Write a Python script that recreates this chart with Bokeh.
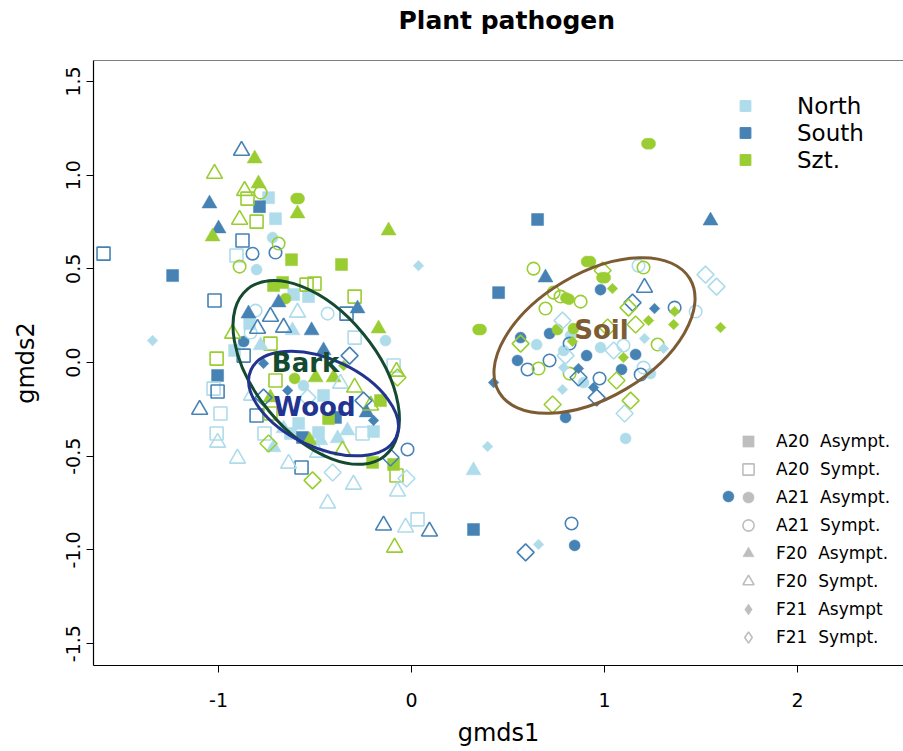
import math
from bokeh.plotting import figure
from bokeh.models import Range1d, FixedTicker, Span, Legend, LegendItem, ColumnDataSource
from bokeh.core.properties import value
from bokeh.embed import file_html
from bokeh.resources import INLINE

# ---------------- data (gmds1, gmds2) ----------------
# North
n_a20a_x = [-0.741, -0.705, -0.839, -0.917, -0.611, -0.534, -0.456, -0.585, -0.627, -0.482, -0.197]
n_a20a_y = [0.880, 0.768, 0.208, 0.064, 0.363, 0.352, -0.176, -0.325, -0.379, -0.373, -0.368]
n_a20s_x = [-0.907, -0.295, -0.093, -1.026, -0.990, -1.010, -0.762, -0.254, 0.031]
n_a20s_y = [0.571, 0.133, -0.016, -0.139, -0.272, -0.379, -0.379, -0.379, -0.837]
n_a21a_x = [-0.803, -0.720, -0.135, -0.560, 0.979, 0.648, 0.824, 0.788, 1.238, 0.891, 1.109]
n_a21a_y = [0.496, 0.667, 0.117, -0.123, 0.080, 0.096, 0.144, 0.064, -0.059, -0.107, -0.405]
n_a21s_x = [-0.808, -0.834, -0.435, 1.176, 1.098, 1.202, 1.472]
n_a21s_y = [0.277, 0.160, 0.261, 0.517, 0.091, -0.027, 0.272]
n_f20a_x = [-0.617, -0.782, -0.663, -0.715, -0.472, -0.383, -0.332, 0.321]
n_f20a_y = [0.171, 0.091, -0.352, -0.453, -0.416, -0.405, -0.363, -0.576]
n_f20s_x = [-0.591, -0.368, -0.829, -1.005, -0.902, -0.487, -0.637, -0.435, -0.301, -0.073, -0.031]
n_f20s_y = [0.267, -0.112, -0.176, -0.427, -0.512, -0.480, -0.539, -0.752, -0.651, -0.688, -0.880]
n_f21a_x = [-1.342, 0.036, 0.394, 0.658, 1.207, 1.306, 0.788, 0.782]
n_f21a_y = [0.117, 0.517, -0.448, -0.971, 0.128, 0.075, -0.027, -0.144]
n_f21s_x = [-0.539, -0.409, -0.026, 1.523, 1.580, 0.782, 0.798, 1.047, 1.104]
n_f21s_y = [-0.187, -0.587, -0.619, 0.469, 0.405, 0.224, 0.037, 0.064, -0.272]

# South
s_a20a_x = [-0.788, -1.238, -1.005, -0.394, -0.565, 0.653, 0.451, 0.321]
s_a20a_y = [0.832, 0.464, -0.069, -0.293, -0.400, 0.763, 0.373, -0.891]
s_a20s_x = [-1.596, -0.876, -1.021, -0.870, -1.005, -0.337, -0.803, -0.570]
s_a20s_y = [0.581, 0.651, 0.331, 0.037, -0.155, 0.261, -0.283, -0.560]
s_a21a_x = [-0.870, 0.979, 0.715, 0.565, 0.907, 1.161, 0.549, 1.088, 0.798, 0.845, 1.642]
s_a21a_y = [0.112, 0.389, 0.155, 0.133, 0.037, 0.043, 0.011, -0.037, -0.293, -0.976, -0.715]
s_a21s_x = [-0.824, -0.705, -0.021, 1.363, 0.819, 0.715, 0.601, 1.187, 0.974, 0.829]
s_a21s_y = [0.581, 0.587, -0.464, 0.293, 0.101, 0.011, -0.037, -0.064, -0.085, -0.859]
s_f20a_x = [-1.047, -1.000, -0.845, -0.689, -0.280, -0.518, -0.456, -0.233, 0.694, 1.549]
s_f20a_y = [0.848, 0.715, 0.261, 0.320, 0.288, 0.171, 0.064, -0.267, 0.453, 0.757]
s_f20s_x = [-0.881, -0.798, -0.731, -0.663, -1.098, -0.145, 0.093, 1.207]
s_f20s_y = [1.131, 0.181, 0.245, 0.187, -0.251, -0.869, -0.901, 0.400]
s_f21a_x = [-0.767, -0.642, -0.197, 0.425, 1.259, 0.865, 0.943]
s_f21a_y = [-0.005, -0.149, -0.309, -0.107, 0.288, -0.032, -0.133]
s_f21s_x = [-0.321, -0.767, -0.249, -0.109, 1.145, 0.865, 0.959, 0.591]
s_f21s_y = [0.037, -0.187, -0.203, -0.507, 0.320, -0.080, -0.187, -1.013]

# Szt.
g_a20a_x = [-0.622, -0.363, -0.715, -0.668, -0.430, -0.161, -0.202, -0.093]
g_a20a_y = [0.549, 0.523, 0.411, 0.427, -0.299, -0.203, -0.533, -0.544]
g_a20s_x = [-0.850, -0.803, -1.010, -0.544, -0.503, -0.295, -0.731, -0.705, -0.731, -0.078]
g_a20s_y = [0.875, 0.752, 0.021, 0.416, 0.421, 0.352, 0.101, -0.096, -0.272, -0.603]
g_a21a_x = [-0.598, -0.583, -0.653, -0.606, 0.345, 0.360, 0.907, 0.927, 1.220, 1.236, 0.987, 1.003, 0.800, 0.816, 0.756, 0.839]
g_a21a_y = [0.875, 0.875, 0.341, -0.085, 0.176, 0.176, 0.539, 0.539, 1.168, 1.168, 0.453, 0.453, 0.345, 0.338, 0.176, 0.181]
g_a21s_x = [-0.782, -0.689, -0.891, 0.632, 0.736, 0.772, 0.876, 0.694, 1.202, 1.275, 0.658, 0.819]
g_a21s_y = [0.907, 0.635, 0.512, 0.501, 0.373, 0.352, 0.325, 0.288, 0.507, 0.096, -0.032, -0.059]
g_f20a_x = [-0.813, -0.793, -0.591, -1.031, -0.119, -0.171, -0.497, -0.404, -0.731, -0.528]
g_f20a_y = [1.088, 0.955, 0.795, 0.672, 0.704, 0.181, -0.080, -0.080, -0.187, -0.416]
g_f20s_x = [-1.021, -0.865, -0.891, -0.927, -0.295, -0.212, -0.358, -0.078, -0.088]
g_f20s_y = [1.008, 0.917, 0.763, 0.155, -0.133, -0.229, -0.469, -0.048, -0.987]
g_f21a_x = [-0.352, 1.041, 1.363, 1.228, 1.358, 1.601, 0.834, 1.098]
g_f21a_y = [-0.016, 0.395, 0.272, 0.224, 0.203, 0.187, 0.112, 0.027]
g_f21s_x = [-0.741, -0.513, -0.073, 0.990, 1.124, 1.161, 1.016, 0.565, 1.062, 1.135, 0.731]
g_f21s_y = [-0.432, -0.629, -0.080, 0.491, 0.293, 0.203, 0.187, 0.101, -0.096, -0.203, -0.224]

# Groups (ellipses) : centres in data units
GROUP_NAMES = ["Bark", "Wood", "Soil"]
GROUP_CX = [-0.494, -0.456, 0.948]
GROUP_CY = [-0.053, -0.219, 0.144]
GROUP_LABEL_X = [-0.549, -0.503, 0.984]
GROUP_LABEL_Y = [0.000, -0.235, 0.171]

REGIONS = ["North", "South", "Szt."]
TYPE_LABELS = ["A20  Asympt.", "A20  Sympt.", "A21  Asympt.", "A21  Sympt.",
               "F20  Asympt.", "F20  Sympt.", "F21  Asympt", "F21  Sympt."]

X_TICKS = [-1, 0, 1, 2]
X_TICK_LABELS = ["-1", "0", "1", "2"]
Y_TICKS = [-1.5, -1.0, -0.5, 0.0, 0.5, 1.0, 1.5]
Y_TICK_LABELS = ["-1.5", "-1.0", "-0.5", "0.0", "0.5", "1.0", "1.5"]
TITLE = "Plant pathogen"

# ---------------- styles ----------------
REGION_COLORS = {"North": "#AEDCEB", "South": "#4682B4", "Szt.": "#9ACD32"}
# marker, filled, size, angle, legend marker
TYPE_STYLE = [
    ("square", True, 12, 0.0, "square"),
    ("square", False, 13, 0.0, "square"),
    ("circle", True, 11, 0.0, "circle"),
    ("circle", False, 12.5, 0.0, "circle"),
    ("triangle", True, 15, 0.0, "triangle"),
    ("triangle", False, 16, 0.0, "triangle"),
    ("square", True, 7.5, math.pi / 4, "diamond"),
    ("square", False, 12, math.pi / 4, "diamond"),
]
ELL_COLORS = ["#144A30", "#22348F", "#7D5C33"]
ELL_W = [216, 160, 222]
ELL_H = [122, 88, 124]
ELL_ANGLE_DEG = [-50.5, -25.0, 30.7]

FONT = "DejaVu Sans"
NAN = float("nan")

p = figure(width=903, height=751, output_backend="svg", toolbar_location=None,
           x_range=Range1d(-1.648, 2.549), y_range=Range1d(-1.617, 1.612),
           min_border_left=93, min_border_right=0, min_border_top=60, min_border_bottom=86)
p.outline_line_color = None
p.grid.visible = False
p.background_fill_color = "white"

# title: a trailing empty line lifts the title towards the top of the page
p.title.text = TITLE + "\n"
p.title.align = "left"
p.title.offset = 305
p.title.text_font = FONT
p.title.text_font_style = "bold"
p.title.text_font_size = "25px"
p.title.text_color = "black"
p.title.text_line_height = 0.8
p.title.standoff = 5

for ax in (p.xaxis[0], p.yaxis[0]):
    ax.major_tick_out = 7
    ax.major_tick_in = 0
    ax.minor_tick_out = 0
    ax.minor_tick_in = 0
    ax.axis_line_color = "black"
    ax.axis_line_width = 1.2
    ax.major_tick_line_color = "black"
    ax.major_label_text_font = FONT
    ax.major_label_text_font_size = "19px"
    ax.major_label_text_color = "black"
    ax.axis_label_text_font = FONT
    ax.axis_label_text_font_size = "24px"
    ax.axis_label_text_font_style = "normal"
    ax.axis_label_text_color = "black"

p.xaxis.ticker = FixedTicker(ticks=X_TICKS)
p.xaxis.major_label_overrides = dict(zip(X_TICKS, X_TICK_LABELS))
p.yaxis.ticker = FixedTicker(ticks=Y_TICKS)
p.yaxis.major_label_overrides = dict(zip(Y_TICKS, Y_TICK_LABELS))
p.yaxis.major_label_orientation = "vertical"
p.xaxis.axis_label = "gmds1"
p.yaxis.axis_label = "gmds2"
p.xaxis.major_label_standoff = 20
p.yaxis.major_label_standoff = 6
p.xaxis.axis_label_standoff = 9
p.yaxis.axis_label_standoff = 24

p.add_layout(Span(location=p.y_range.end, dimension="width", line_color="black", line_width=1.2))

series = {
    "North": [(n_a20a_x, n_a20a_y), (n_a20s_x, n_a20s_y), (n_a21a_x, n_a21a_y), (n_a21s_x, n_a21s_y),
              (n_f20a_x, n_f20a_y), (n_f20s_x, n_f20s_y), (n_f21a_x, n_f21a_y), (n_f21s_x, n_f21s_y)],
    "South": [(s_a20a_x, s_a20a_y), (s_a20s_x, s_a20s_y), (s_a21a_x, s_a21a_y), (s_a21s_x, s_a21s_y),
              (s_f20a_x, s_f20a_y), (s_f20s_x, s_f20s_y), (s_f21a_x, s_f21a_y), (s_f21s_x, s_f21s_y)],
    "Szt.": [(g_a20a_x, g_a20a_y), (g_a20s_x, g_a20s_y), (g_a21a_x, g_a21a_y), (g_a21s_x, g_a21s_y),
             (g_f20a_x, g_f20a_y), (g_f20s_x, g_f20s_y), (g_f21a_x, g_f21a_y), (g_f21s_x, g_f21s_y)],
}

def draw(xs, ys, color, style, marker=None):
    mk, filled, size, angle, _ = style
    mk = marker or mk
    if filled:
        return p.scatter(x=xs, y=ys, marker=mk, size=size, angle=angle,
                         fill_color=color, line_color=color, line_width=0.5)
    return p.scatter(x=xs, y=ys, marker=mk, size=size, angle=angle,
                     fill_color=None, line_color=color, line_width=1.6)

for t in range(len(TYPE_LABELS)):
    for reg in REGIONS:
        xs, ys = series[reg][t]
        draw(xs, ys, REGION_COLORS[reg], TYPE_STYLE[t])

# ellipses
for i in range(len(GROUP_NAMES)):
    p.ellipse(x=[GROUP_CX[i]], y=[GROUP_CY[i]], width=ELL_W[i], height=ELL_H[i],
              width_units="screen", height_units="screen",
              angle=math.radians(ELL_ANGLE_DEG[i]), fill_color=None,
              line_color=ELL_COLORS[i], line_width=3)

lbl_src = ColumnDataSource(dict(x=GROUP_LABEL_X, y=GROUP_LABEL_Y, t=GROUP_NAMES, c=ELL_COLORS))
p.text(x="x", y="y", text="t", text_color="c", source=lbl_src,
       text_font=value(FONT), text_font_style="bold", text_font_size="26px",
       text_align="center", text_baseline="middle")

# legend for regions
reg_items = []
for reg in REGIONS:
    r = p.scatter(x=[NAN], y=[NAN], marker="square", size=12,
                  fill_color=REGION_COLORS[reg], line_color=REGION_COLORS[reg])
    reg_items.append(LegendItem(label=reg, renderers=[r]))
leg1 = Legend(items=reg_items, location=(637, 492), orientation="vertical",
              border_line_alpha=0, background_fill_alpha=0, padding=0, margin=0, spacing=0,
              glyph_width=30, glyph_height=27, label_height=27, label_standoff=37,
              label_text_font=FONT, label_text_font_size="23px", label_text_color="black")
p.add_layout(leg1)

# legend for sample types (grey)
type_items = []
for t, lab in enumerate(TYPE_LABELS):
    r = draw([NAN], [NAN], "#BEBEBE", TYPE_STYLE[t], marker=TYPE_STYLE[t][4])
    type_items.append(LegendItem(label=lab, renderers=[r]))
leg2 = Legend(items=type_items, location=(641, 14), orientation="vertical",
              border_line_alpha=0, background_fill_alpha=0, padding=0, margin=0, spacing=0,
              glyph_width=28, glyph_height=28, label_height=28, label_standoff=14,
              label_text_font=FONT, label_text_font_size="17px", label_text_color="black")
p.add_layout(leg2)

open("out.html", "w").write(file_html(p, INLINE))
